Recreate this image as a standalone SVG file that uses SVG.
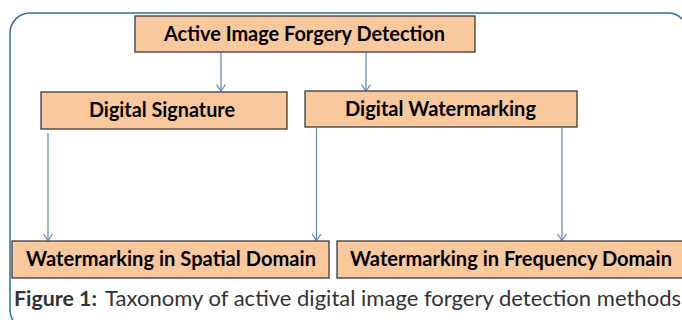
<svg xmlns="http://www.w3.org/2000/svg" width="682" height="320" viewBox="0 0 682 320">
<style>
.box{fill:#f9c89c;stroke:#3a3a3a;stroke-width:1.3}
.lbl{font-family:Lato,"Liberation Sans",sans-serif;font-weight:bold;font-size:20px;fill:#000}
.con{stroke:#5a86bb;stroke-width:1.2;fill:none}
.cap{font-family:Lato,"Liberation Sans",sans-serif;font-size:21px;fill:#333}
</style>
<defs>
<marker id="ah" markerUnits="userSpaceOnUse" markerWidth="12" markerHeight="12" refX="0" refY="0" orient="auto" overflow="visible">
<path d="M-6.5,-4.5 L0,0 L-6.5,4.5" fill="none" stroke="#5a86bb" stroke-width="1.2"/>
</marker>
</defs>
<rect x="10" y="13" width="678" height="317" rx="20" ry="20" fill="none" stroke="#2f6fa6" stroke-width="1.5"/>
<g id="connectors">
<line class="con" x1="221" y1="52" x2="221" y2="91" marker-end="url(#ah)"/>
<line class="con" x1="366" y1="52" x2="366" y2="91" marker-end="url(#ah)"/>
<line class="con" x1="48" y1="133" x2="48" y2="240.5" marker-end="url(#ah)"/>
<line class="con" x1="316.5" y1="128" x2="316.5" y2="240.5" marker-end="url(#ah)"/>
<line class="con" x1="562" y1="128" x2="562" y2="240.5" marker-end="url(#ah)"/>
</g>
<g id="node-active">
<rect class="box" x="135" y="16" width="340" height="36"/>
<text class="lbl" x="164" y="41" textLength="281" lengthAdjust="spacingAndGlyphs">Active Image Forgery Detection</text>
</g>
<g id="node-signature">
<rect class="box" x="41" y="92" width="246" height="37"/>
<text class="lbl" x="89" y="117" textLength="146" lengthAdjust="spacingAndGlyphs">Digital Signature</text>
</g>
<g id="node-watermarking">
<rect class="box" x="305" y="91" width="272" height="36"/>
<text class="lbl" x="345" y="116" textLength="191" lengthAdjust="spacingAndGlyphs">Digital Watermarking</text>
</g>
<g id="node-spatial">
<rect class="box" x="12" y="241" width="317" height="37"/>
<text class="lbl" x="26" y="266" textLength="290" lengthAdjust="spacingAndGlyphs">Watermarking in Spatial Domain</text>
</g>
<g id="node-frequency">
<rect class="box" x="337" y="241" width="348" height="37"/>
<text class="lbl" x="350" y="266" textLength="322" lengthAdjust="spacingAndGlyphs">Watermarking in Frequency Domain</text>
</g>
<text class="cap" x="14" y="306" font-weight="bold" textLength="83" lengthAdjust="spacingAndGlyphs">Figure 1:</text>
<text class="cap" x="105" y="306" textLength="576" lengthAdjust="spacingAndGlyphs">Taxonomy of active digital image forgery detection methods</text>
</svg>
